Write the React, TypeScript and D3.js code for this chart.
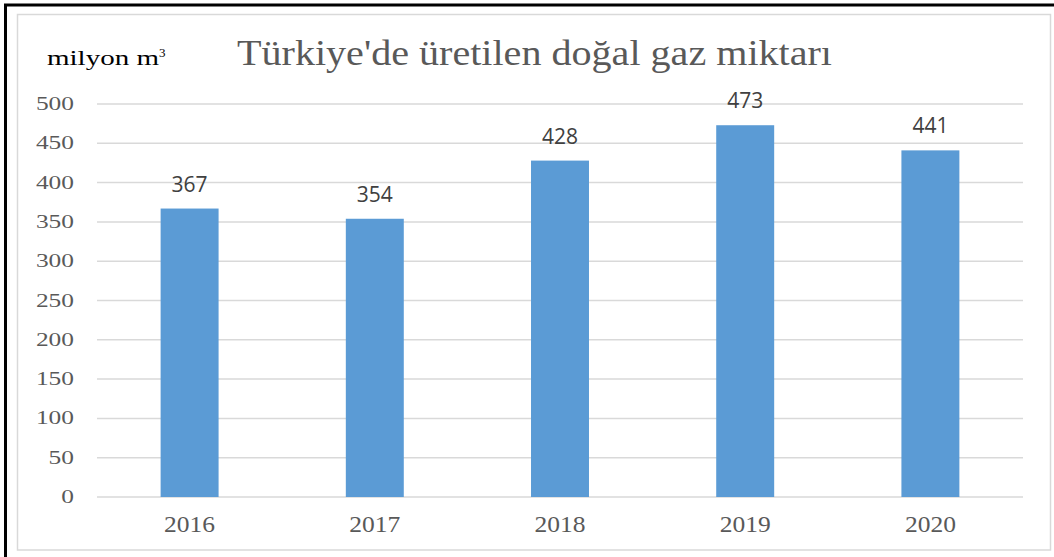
import { useRef, useEffect } from 'react'
import * as d3 from 'd3'

const years = ['2016', '2017', '2018', '2019', '2020']
const production = [367, 354, 428, 473, 441]
const yTicks = [0, 50, 100, 150, 200, 250, 300, 350, 400, 450, 500]

const titleText = "Türkiye'de üretilen doğal gaz miktarı"
const unitText = 'milyon m'
const unitSup = '3'

export default function App() {
    const svgRef = useRef<SVGSVGElement | null>(null)

    useEffect(() => {
        if (!svgRef.current) return
        const width = 1054
        const height = 557
        const svg = d3.select(svgRef.current)
        svg.selectAll('*').remove()
        svg.attr('width', width).attr('height', height)

        const serif = '"Liberation Serif", "Times New Roman", serif'

        // background + frames
        svg.append('rect').attr('width', width).attr('height', height).style('fill', '#fff')
        svg.append('rect')
            .attr('x', 5.5).attr('y', 5)
            .attr('width', width + 20).attr('height', height + 20)
            .style('fill', 'none').style('stroke', '#000').style('stroke-width', 3)
        svg.append('rect')
            .attr('x', 17.5).attr('y', 14.5)
            .attr('width', 1033).attr('height', 535.5)
            .style('fill', 'none').style('stroke', '#d9d9d9').style('stroke-width', 1.5)

        // scales
        const x = d3.scaleBand<string>()
            .domain(years)
            .range([97, 1023])
            .paddingInner(0.687)
            .paddingOuter(0.3435)

        const y = d3.scaleLinear()
            .domain([0, 500])
            .range([497, 104])

        // grid lines
        svg.append('g')
            .selectAll('line')
            .data(yTicks)
            .enter()
            .append('line')
            .attr('x1', 97).attr('x2', 1023)
            .attr('y1', d => y(d)).attr('y2', d => y(d))
            .style('stroke', '#d9d9d9')
            .style('stroke-width', 1.5)

        // y tick labels
        svg.append('g')
            .selectAll('text')
            .data(yTicks)
            .enter()
            .append('text')
            .attr('x', 74)
            .attr('y', d => y(d) + 6)
            .attr('text-anchor', 'end')
            .attr('textLength', d => String(d).length * 12.7)
            .attr('lengthAdjust', 'spacingAndGlyphs')
            .style('fill', '#595959')
            .style('font-size', '18px')
            .style('font-family', serif)
            .text(d => d)

        // bars
        svg.append('g')
            .selectAll('rect')
            .data(production)
            .enter()
            .append('rect')
            .attr('x', (d, i) => x(years[i]) as number)
            .attr('y', d => y(d))
            .attr('width', x.bandwidth())
            .attr('height', d => y(0) - y(d))
            .style('fill', '#5b9bd5')

        // value labels
        svg.append('g')
            .selectAll('text')
            .data(production)
            .enter()
            .append('text')
            .attr('x', (d, i) => (x(years[i]) as number) + x.bandwidth() / 2)
            .attr('y', d => y(d) - 17)
            .attr('text-anchor', 'middle')
            .style('fill', '#404040')
            .style('font-size', '21px')
            .style('font-family', '"Open Sans", "DejaVu Sans", sans-serif')
            .text(d => d)

        // x labels
        svg.append('g')
            .selectAll('text')
            .data(years)
            .enter()
            .append('text')
            .attr('x', d => (x(d) as number) + x.bandwidth() / 2)
            .attr('y', 532)
            .attr('text-anchor', 'middle')
            .attr('textLength', 51)
            .attr('lengthAdjust', 'spacingAndGlyphs')
            .style('fill', '#595959')
            .style('font-size', '24px')
            .style('font-family', serif)
            .text(d => d)

        // title
        svg.append('text')
            .attr('x', 237)
            .attr('y', 65)
            .attr('textLength', 595)
            .attr('lengthAdjust', 'spacingAndGlyphs')
            .style('fill', '#595959')
            .style('font-size', '35px')
            .style('font-family', serif)
            .text(titleText)

        // unit label
        svg.append('text')
            .attr('x', 47)
            .attr('y', 65)
            .attr('textLength', 112)
            .attr('lengthAdjust', 'spacingAndGlyphs')
            .style('fill', '#000')
            .style('font-size', '21px')
            .style('font-family', serif)
            .text(unitText)
        svg.append('text')
            .attr('x', 159)
            .attr('y', 57)
            .style('fill', '#000')
            .style('font-size', '13px')
            .style('font-family', serif)
            .text(unitSup)
    }, [])

    return (
        <svg ref={svgRef} style={{ position: 'absolute', left: 0, top: 0, display: 'block' }} />
    )
}
